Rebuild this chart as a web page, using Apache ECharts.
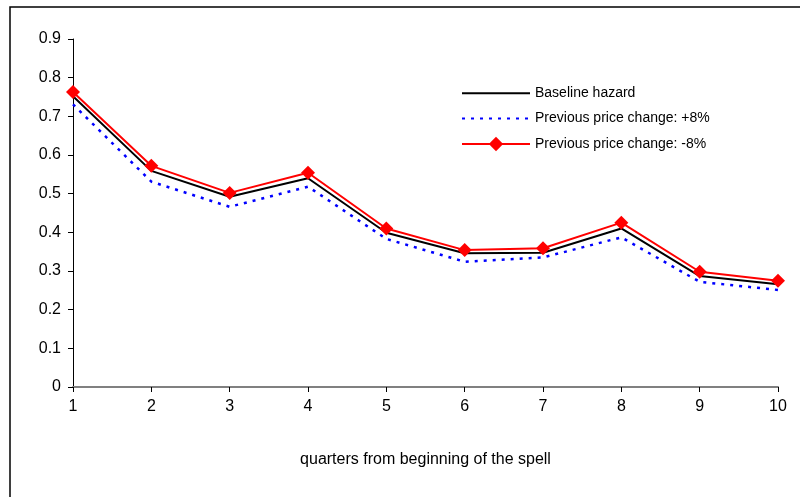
<!DOCTYPE html>
<html>
<head>
<meta charset="utf-8">
<script src="https://cdn.jsdelivr.net/npm/echarts@6/dist/echarts.min.js"></script>
<style>
  html, body { margin: 0; padding: 0; background: #fff; }
  #chart { width: 800px; height: 497px; }
</style>
</head>
<body>
<div id="chart"></div>
<script>
// quarters 1..10
const quarters = ['1', '2', '3', '4', '5', '6', '7', '8', '9', '10'];
const baseline = [0.752, 0.559, 0.492, 0.540, 0.399, 0.346, 0.347, 0.410, 0.287, 0.266];
const plus8 = [0.731, 0.531, 0.466, 0.518, 0.383, 0.324, 0.335, 0.387, 0.272, 0.251];
const minus8 = [0.763, 0.572, 0.502, 0.554, 0.410, 0.354, 0.359, 0.425, 0.298, 0.275];

const chart = echarts.init(document.getElementById('chart'));
const font = 'Liberation Sans, Arial, sans-serif';

chart.setOption({
  animation: false,
  textStyle: { fontFamily: font, color: '#000' },
  grid: { left: 73, right: 22, top: 39, bottom: 110 },
  // frame around the chart (left + top edges are visible)
  graphic: [{
    type: 'rect',
    shape: { x: 10, y: 7, width: 800, height: 500 },
    style: { fill: 'none', stroke: '#000', lineWidth: 1.5 },
    silent: true
  }],
  legend: {
    orient: 'vertical',
    left: 456,
    top: 81,
    itemWidth: 68,
    itemHeight: 18,
    itemGap: 11,
    textStyle: { fontFamily: font, fontSize: 14, color: '#000' },
    data: [
      { name: 'Baseline hazard', itemStyle: { opacity: 0 } },
      { name: 'Previous price change: +8%', itemStyle: { opacity: 0 } },
      { name: 'Previous price change: -8%' }
    ]
  },
  xAxis: {
    type: 'category',
    data: quarters,
    boundaryGap: false,
    name: 'quarters from beginning of the spell',
    nameLocation: 'middle',
    nameGap: 65,
    nameTextStyle: { fontFamily: font, fontSize: 16, color: '#000' },
    axisLine: { lineStyle: { color: '#808080', width: 2 } },
    axisTick: { show: true, length: 5, lineStyle: { color: '#000' } },
    axisLabel: { fontSize: 16, color: '#000', margin: 12 },
    splitLine: { show: false }
  },
  yAxis: {
    type: 'value',
    min: 0,
    max: 0.9,
    interval: 0.1,
    axisLine: { show: true, lineStyle: { color: '#000', width: 1 } },
    axisTick: { show: true, length: 5, lineStyle: { color: '#000' } },
    axisLabel: { fontSize: 16, color: '#000', margin: 12 },
    splitLine: { show: false }
  },
  series: [
    {
      name: 'Baseline hazard',
      type: 'line',
      data: baseline,
      symbol: 'none',
      lineStyle: { color: '#000', width: 2 },
      itemStyle: { color: '#000' },
      z: 3
    },
    {
      name: 'Previous price change: +8%',
      type: 'line',
      data: plus8,
      symbol: 'none',
      lineStyle: { color: '#0000ff', width: 2.5, type: [3, 6] },
      itemStyle: { color: '#0000ff' },
      z: 2
    },
    {
      name: 'Previous price change: -8%',
      type: 'line',
      data: minus8,
      symbol: 'diamond',
      symbolSize: 14,
      lineStyle: { color: '#ff0000', width: 2 },
      itemStyle: { color: '#ff0000' },
      z: 4
    }
  ]
});
</script>
</body>
</html>
